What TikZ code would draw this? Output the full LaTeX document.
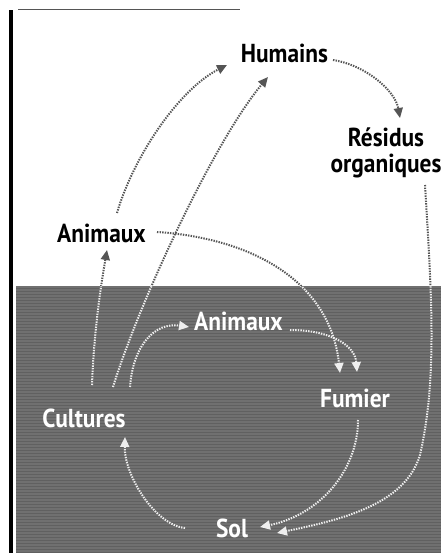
\documentclass[tikz,border=0pt]{standalone}
\usepackage{fontspec}
\setmainfont{PT Sans}
\newfontfamily\lblfont[FakeStretch=0.9]{PT Sans}
\usetikzlibrary{arrows.meta,calc}
\definecolor{bgdark}{RGB}{112,112,112}
\definecolor{bgstripe}{RGB}{96,96,96}
\definecolor{linedark}{RGB}{85,85,85}
\definecolor{linelight}{RGB}{238,238,238}
\newcommand{\allconns}{%
  \draw[conn] ($(cul.base)+(8,-42)$) .. controls (94,330) and (101,285) .. ($(ani1.base)+(5.5,8)$);
  \draw[conn] ($(ani1.base)+(15.5,-29)$) .. controls (133,158) and (178,90) .. ($(hum.base)+(-57.5,2)$);
  \draw[conn] ($(cul.base)+(29,-40)$) .. controls (140,300) and (215,140) .. ($(hum.base)+(-16.5,14)$);
  \draw[conn] ($(hum.base)+(48.5,-3)$) .. controls (365,65) and (395,90) .. ($(res.base)+(14,-29)$);
  \draw[conn] ($(res.base)+(39,38)$) .. controls (432,300) and (437,380) .. (420,455) .. controls (405,505) and (340,520) .. ($(sol.base)+(45,-4)$);
  \draw[conn] ($(ani1.base)+(55.5,-10)$) .. controls (250,238) and (330,280) .. ($(fum.base)+(-15,-34)$);
  \draw[conn] ($(ani2.base)+(51.5,0)$) .. controls (330,330) and (355,345) .. ($(fum.base)+(2,-35)$);
  \draw[conn] ($(cul.base)+(46,-40)$) .. controls (133,345) and (155,322) .. ($(ani2.base)+(-49.5,-3)$);
  \draw[conn] ($(fum.base)+(3,13)$) .. controls (358,470) and (320,515) .. ($(sol.base)+(28,-10)$);
  \draw[conn] ($(sol.base)+(-47,-9)$) .. controls (155,525) and (124,475) .. ($(cul.base)+(41,10)$);
}
\begin{document}
\begin{tikzpicture}[x=1pt,y=-1pt,
  lbl/.style={inner sep=0pt,anchor=base,font=\lblfont\bfseries\fontsize{26}{23}\selectfont},
  conn/.style={line width=2pt,dash pattern=on 1.4pt off 1.2pt,-{Triangle[length=10pt,width=9pt]}}]
\useasboundingbox (0,0) rectangle (441,553);
\fill[white] (0,0) rectangle (441,553);
\fill[bgdark] (16,286) rectangle (441,553);
\foreach \yy in {288,291,...,552} \draw[bgstripe,line width=0.7pt] (16,\yy) -- (441,\yy);
\fill[black] (8.5,10) rectangle (12.5,553);
\draw[linedark,line width=1.5pt] (18,9.5) -- (240,9.5);
\node[lbl,text=black] (hum) at (284.5,63) {Humains};
\node[lbl,text=black] (res) at (386,147) {\begin{tabular}[t]{@{}c@{}}Résidus\\organiques\end{tabular}};
\node[lbl,text=black] (ani1) at (101.5,242) {Animaux};
\node[lbl,text=white] (ani2) at (238.5,330) {Animaux};
\node[lbl,text=white] (fum) at (355,407) {Fumier};
\node[lbl,text=white] (cul) at (84,427) {Cultures};
\node[lbl,text=white] (sol) at (232,537) {Sol};
\begin{scope}
  \clip (16,0) rectangle (441,286);
  \tikzset{conn/.append style={linedark}}
  \allconns
\end{scope}
\begin{scope}
  \clip (16,286) rectangle (441,553);
  \tikzset{conn/.append style={linelight}}
  \allconns
\end{scope}
\end{tikzpicture}
\end{document}
